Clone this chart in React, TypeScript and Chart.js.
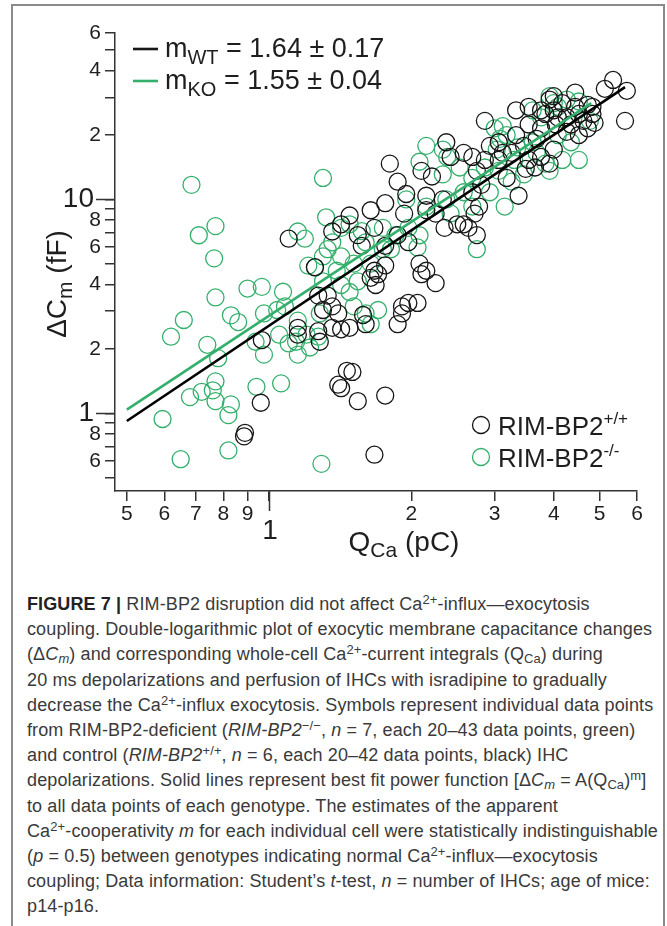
import React, { useEffect, useRef } from 'react';
import { Chart, registerables } from 'chart.js';

Chart.register(...registerables);

const FAMILY = '"Liberation Sans", Arial, Helvetica, sans-serif';
const AXIS_COLOR = '#333333';
const TEXT_COLOR = '#1e1e1e';
const WT_COLOR = '#161616';
const KO_COLOR = '#33b06c';

// RIM-BP2+/+ (WT, black): Q_Ca (pC) and ΔCm (fF)
const wtQ = [5.34, 5.13, 5.71, 5.66, 2.86, 2.37, 2.42, 2.58, 2.69, 2.86,
  2.10, 2.21, 1.80, 1.87, 1.95, 1.76, 1.64, 2.33, 2.35, 2.50,
  2.64, 2.75, 2.72, 2.78, 2.69, 2.81, 2.75, 3.06, 3.26, 3.33,
  3.37, 3.18, 3.54, 3.54, 3.76, 3.92, 4.00, 4.17, 4.44, 4.72,
  4.83, 4.62, 4.88, 4.52, 4.26, 4.04, 3.76, 3.68, 3.46, 3.54,
  3.76, 4.00, 3.92, 3.65, 4.26, 4.44, 4.83, 3.33, 3.06, 3.12,
  2.93, 1.10, 1.25, 1.27, 1.33, 1.30, 1.36, 1.40, 1.36, 1.42,
  1.48, 1.15, 1.15, 1.27, 1.28, 1.42, 1.48, 1.54, 1.57, 1.67,
  1.67, 1.64, 1.70, 1.68, 1.76, 1.58, 1.60, 1.87, 1.91, 1.97,
  2.06, 1.91, 2.08, 2.10, 2.15, 2.25, 2.15, 1.93, 1.97, 1.87,
  1.76, 0.965, 0.96, 0.889, 0.885, 1.46, 1.50, 1.40, 1.42, 1.54,
  1.76, 1.67, 4.00, 4.08, 4.52, 3.84, 4.35, 4.72, 3.49, 2.15,
  2.25, 2.58, 1.36];
const wtC = [36.2, 32.9, 32.2, 23.3, 23.3, 18.5, 15.8, 16.5, 15.8, 15.3,
  13.6, 12.8, 14.7, 12.1, 10.6, 9.6, 8.9, 10.0, 7.36, 7.65,
  7.36, 6.81, 8.58, 9.26, 10.8, 11.7, 13.6, 15.3, 16.5, 20.0,
  10.4, 12.6, 22.4, 27.1, 26.1, 29.3, 30.4, 28.2, 27.1, 27.7,
  25.1, 23.3, 22.8, 20.0, 20.7, 22.4, 21.5, 19.2, 17.8, 15.3,
  15.8, 17.1, 14.7, 14.1, 24.2, 31.6, 27.1, 26.1, 18.5, 16.5,
  17.8, 6.55, 4.82, 3.55, 3.55, 3.04, 3.16, 2.93, 2.51, 2.47,
  2.51, 2.51, 2.33, 2.42, 2.16, 7.65, 8.41, 6.81, 6.07, 7.36,
  4.64, 4.30, 4.47, 3.98, 4.91, 2.88, 2.61, 2.61, 3.16, 3.28,
  3.28, 2.93, 5.01, 4.47, 4.64, 4.06, 8.91, 8.58, 6.31, 6.81,
  6.07, 2.20, 1.12, 0.81, 0.78, 1.58, 1.56, 1.36, 1.31, 1.14,
  1.21, 0.64, 26.1, 24.2, 25.1, 25.1, 22.4, 21.5, 13.9, 10.4,
  8.58, 7.65, 7.08];

// RIM-BP2-/- (KO, green)
const koQ = [0.685, 0.71, 0.77, 0.765, 0.77, 0.66, 0.62, 0.83, 0.86, 0.74,
  0.78, 0.77, 0.76, 0.68, 0.72, 0.77, 0.83, 0.82, 0.595, 0.65,
  0.82, 1.29, 1.30, 0.90, 0.965, 1.07, 0.936, 0.975, 1.05, 1.14,
  1.15, 1.22, 0.94, 1.06, 1.08, 1.15, 1.19, 1.32, 1.25, 1.21,
  1.33, 1.36, 1.42, 1.48, 1.57, 1.60, 1.39, 1.30, 1.42, 1.48,
  1.54, 1.51, 1.60, 1.64, 1.15, 1.28, 1.20, 1.10, 1.27, 1.74,
  1.81, 1.85, 1.97, 2.08, 2.06, 1.95, 2.08, 2.33, 2.37, 2.42,
  2.15, 2.33, 2.38, 2.69, 2.75, 2.93, 3.06, 3.15, 3.26, 3.00,
  3.08, 3.03, 3.18, 3.46, 3.30, 3.68, 3.84, 3.92, 4.17, 4.52,
  4.35, 4.08, 3.76, 3.61, 4.00, 4.26, 4.52, 3.92, 4.08, 4.77,
  2.15, 2.53, 2.86, 3.35, 3.12, 3.61, 2.69, 2.58, 1.70, 0.975,
  1.04, 1.30, 1.64, 1.74, 1.42, 1.51];
const koC = [11.7, 6.8, 7.5, 5.3, 3.48, 2.73, 2.28, 2.87, 2.67, 2.09,
  1.81, 1.41, 1.28, 1.19, 1.26, 1.14, 1.10, 0.98, 0.94, 0.61,
  0.67, 0.58, 12.6, 3.83, 3.9, 3.7, 2.16, 1.88, 2.33, 2.16,
  1.88, 2.03, 1.33, 1.38, 3.16, 7.08, 6.55, 8.25, 4.8, 4.9,
  5.85, 6.3, 7.36, 7.65, 7.1, 6.3, 4.64, 4.14, 3.98, 3.69,
  4.14, 3.16, 2.93, 2.61, 2.71, 2.93, 2.33, 2.12, 2.28, 7.36,
  5.85, 6.8, 7.36, 6.8, 5.96, 10.0, 15.0, 13.1, 10.0, 8.6,
  9.26, 17.1, 15.8, 12.6, 5.85, 10.8, 13.6, 9.26, 12.1, 21.5,
  19.2, 17.1, 20.0, 13.1, 15.3, 16.5, 14.7, 13.6, 15.3, 15.3,
  18.5, 20.0, 24.2, 26.1, 28.2, 29.3, 28.7, 30.4, 27.1, 23.3,
  17.8, 14.1, 14.1, 17.5, 22.0, 18.5, 9.26, 10.8, 3.04, 2.93,
  3.04, 5.41, 5.01, 5.85, 5.41, 5.01];

// Best-fit power-function lines (end points)
const wtFitQ = [0.5, 5.66];
const wtFitC = [0.92, 33.5];
const koFitQ = [0.5, 4.8];
const koFitC = [1.04, 28.2];

// Axis ticks
const xMin = 0.472;
const xMax = 6;
const yMin = 0.433;
const yMax = 60;
const xTickValues = [0.5, 0.6, 0.7, 0.8, 0.9, 1, 2, 3, 4, 5, 6];
const xTickLabels = ['5', '6', '7', '8', '9', '', '2', '3', '4', '5', '6'];
const xMajorValues = [1];
const xMajorLabels = ['1'];
const yTickValues = [0.5, 0.6, 0.7, 0.8, 0.9, 1, 2, 3, 4, 5, 6, 7, 8, 9, 10, 20, 30, 40, 50, 60];
const yTickLabels = ['', '6', '', '8', '', '', '2', '', '4', '', '6', '', '8', '', '', '2', '', '4', '', '6'];
const yMajorValues = [1, 10];
const yMajorLabels = ['1', '10'];

const toPoints = (xs: number[], ys: number[]) => xs.map((x, i) => ({ x, y: ys[i] }));

type Part = { t: string; size: number; dy?: number };

function drawRich(ctx: CanvasRenderingContext2D, x: number, y: number, parts: Part[], align: 'left' | 'center') {
  const widths = parts.map((p) => {
    ctx.font = `${p.size}px ${FAMILY}`;
    return ctx.measureText(p.t).width;
  });
  const total = widths.reduce((a, b) => a + b, 0);
  let cx = align === 'center' ? x - total / 2 : x;
  ctx.textAlign = 'left';
  ctx.textBaseline = 'alphabetic';
  parts.forEach((p, i) => {
    ctx.font = `${p.size}px ${FAMILY}`;
    ctx.fillText(p.t, cx, y + (p.dy || 0));
    cx += widths[i];
  });
}

const decorPlugin = {
  id: 'decor',
  afterDraw(chart: any) {
    const { ctx, chartArea } = chart;
    const xs = chart.scales.x;
    const ys = chart.scales.y;
    ctx.save();
    ctx.strokeStyle = AXIS_COLOR;
    ctx.lineWidth = 1.5;
    // longer ticks at the decades
    xMajorValues.forEach((v) => {
      const px = Math.round(xs.getPixelForValue(v)) + 0.5;
      ctx.beginPath();
      ctx.moveTo(px, chartArea.bottom);
      ctx.lineTo(px, chartArea.bottom + 20);
      ctx.stroke();
    });
    yMajorValues.forEach((v) => {
      const py = Math.round(ys.getPixelForValue(v)) + 0.5;
      ctx.beginPath();
      ctx.moveTo(chartArea.left - 19, py);
      ctx.lineTo(chartArea.left, py);
      ctx.stroke();
    });
    // decade labels (larger)
    ctx.fillStyle = TEXT_COLOR;
    ctx.font = `28px ${FAMILY}`;
    ctx.textBaseline = 'middle';
    ctx.textAlign = 'center';
    xMajorValues.forEach((v, i) => {
      ctx.fillText(xMajorLabels[i], xs.getPixelForValue(v) + 1, chartArea.bottom + 40);
    });
    ctx.textAlign = 'right';
    yMajorValues.forEach((v, i) => {
      ctx.fillText(yMajorLabels[i], chartArea.left - 21, ys.getPixelForValue(v));
    });

    // axis titles
    ctx.fillStyle = TEXT_COLOR;
    drawRich(ctx, 404, 551, [
      { t: 'Q', size: 28 },
      { t: 'Ca', size: 21, dy: 6 },
      { t: ' (pC)', size: 28 },
    ], 'center');
    ctx.save();
    ctx.translate(66, 284);
    ctx.rotate(-Math.PI / 2);
    drawRich(ctx, 0, 0, [
      { t: '\u0394C', size: 28 },
      { t: 'm', size: 21, dy: 6 },
      { t: ' (fF)', size: 28 },
    ], 'center');
    ctx.restore();

    // top-left legend (fit slopes)
    const fitRows = [
      { color: WT_COLOR, sub: 'WT', val: ' = 1.64 \u00b1 0.17' },
      { color: KO_COLOR, sub: 'KO', val: ' = 1.55 \u00b1 0.04' },
    ];
    fitRows.forEach((r, i) => {
      const base = chartArea.top + 24 + i * 32;
      ctx.strokeStyle = r.color;
      ctx.lineWidth = 2.6;
      ctx.beginPath();
      ctx.moveTo(chartArea.left + 18, base - 8);
      ctx.lineTo(chartArea.left + 43, base - 8);
      ctx.stroke();
      ctx.fillStyle = TEXT_COLOR;
      drawRich(ctx, chartArea.left + 50, base, [
        { t: 'm', size: 27 },
        { t: r.sub, size: 20, dy: 7 },
        { t: r.val, size: 27 },
      ], 'left');
    });

    // bottom-right legend (genotypes)
    const genoRows = [
      { color: WT_COLOR, sup: '+/+' },
      { color: KO_COLOR, sup: '-/-' },
    ];
    genoRows.forEach((r, i) => {
      const cy = chartArea.bottom - 66 + i * 32;
      ctx.strokeStyle = r.color;
      ctx.lineWidth = 1.3;
      ctx.beginPath();
      ctx.arc(chartArea.left + 366, cy, 8.5, 0, Math.PI * 2);
      ctx.stroke();
      ctx.fillStyle = TEXT_COLOR;
      drawRich(ctx, chartArea.left + 383, cy + 10, [
        { t: 'RIM-BP2', size: 26 },
        { t: r.sup, size: 17, dy: -11 },
      ], 'left');
    });
    ctx.restore();
  },
};

function App() {
  const canvasRef = useRef<HTMLCanvasElement | null>(null);

  useEffect(() => {
    if (!canvasRef.current) return;
    const pointStyle = {
      pointStyle: 'circle' as const,
      pointRadius: 8.5,
      pointHoverRadius: 8.5,
      pointBorderWidth: 1.3,
      backgroundColor: 'rgba(0,0,0,0)',
      showLine: false,
    };
    const chart = new Chart(canvasRef.current, {
      type: 'scatter',
      data: {
        datasets: [
          {
            label: 'KO fit',
            data: toPoints(koFitQ, koFitC),
            showLine: true,
            borderColor: KO_COLOR,
            borderWidth: 2.6,
            pointRadius: 0,
          },
          {
            label: 'WT fit',
            data: toPoints(wtFitQ, wtFitC),
            showLine: true,
            borderColor: '#000000',
            borderWidth: 2.6,
            pointRadius: 0,
          },
          {
            label: 'RIM-BP2+/+',
            data: toPoints(wtQ, wtC),
            borderColor: WT_COLOR,
            ...pointStyle,
          },
          {
            label: 'RIM-BP2-/-',
            data: toPoints(koQ, koC),
            borderColor: KO_COLOR,
            ...pointStyle,
          },
        ],
      },
      options: {
        responsive: false,
        animation: false,
        events: [],
        layout: { padding: { left: 0, right: 30, top: 33, bottom: 0 } },
        plugins: { legend: { display: false }, tooltip: { enabled: false }, title: { display: false } },
        scales: {
          x: {
            type: 'logarithmic',
            min: xMin,
            max: xMax,
            bounds: 'data',
            afterFit: (s: any) => { s.height = 69; },
            afterBuildTicks: (s: any) => { s.ticks = xTickValues.map((v) => ({ value: v })); },
            border: { display: true, color: AXIS_COLOR, width: 1.5 },
            grid: { display: true, drawOnChartArea: false, drawTicks: true, tickLength: 10, color: AXIS_COLOR, lineWidth: 1.5 },
            ticks: {
              autoSkip: false,
              maxRotation: 0,
              minRotation: 0,
              padding: 3,
              color: TEXT_COLOR,
              font: { family: FAMILY, size: 21, lineHeight: 1 },
              callback: (value: any) => {
                const i = xTickValues.indexOf(Number(value));
                return i >= 0 ? xTickLabels[i] : '';
              },
            },
          },
          y: {
            type: 'logarithmic',
            min: yMin,
            max: yMax,
            bounds: 'data',
            afterFit: (s: any) => { s.width = 115; },
            afterBuildTicks: (s: any) => { s.ticks = yTickValues.map((v) => ({ value: v })); },
            border: { display: true, color: AXIS_COLOR, width: 1.5 },
            grid: { display: true, drawOnChartArea: false, drawTicks: true, tickLength: 10, color: AXIS_COLOR, lineWidth: 1.5 },
            ticks: {
              autoSkip: false,
              padding: 4,
              color: TEXT_COLOR,
              font: { family: FAMILY, size: 21, lineHeight: 1 },
              callback: (value: any) => {
                const i = yTickValues.indexOf(Number(value));
                return i >= 0 ? yTickLabels[i] : '';
              },
            },
          },
        },
      },
      plugins: [decorPlugin],
    } as any);
    return () => chart.destroy();
  }, []);

  const sup: React.CSSProperties = { fontSize: '0.72em', verticalAlign: '0.5em', lineHeight: 0 };
  const sub: React.CSSProperties = { fontSize: '0.72em', verticalAlign: '-0.25em', lineHeight: 0 };
  const line: React.CSSProperties = { whiteSpace: 'nowrap', height: 25.2 };

  return (
    <div style={{ position: 'absolute', left: 0, top: 0, width: 667, height: 926, overflow: 'hidden', background: '#ffffff' }}>
      <div style={{ position: 'absolute', left: 11, top: 4, width: 650, height: 1000, border: '2px solid #8a8a8a' }} />
      <canvas ref={canvasRef} width={667} height={560} style={{ position: 'absolute', left: 0, top: 0, display: 'block' }} />
      <div style={{ position: 'absolute', left: 27, top: 592, fontFamily: FAMILY, fontSize: 18, letterSpacing: '0.12px', color: '#3a3a3a', lineHeight: '25.2px' }}>
        <div style={line}><b style={{ color: '#222' }}>FIGURE 7 |</b> RIM-BP2 disruption did not affect Ca<span style={sup}>2+</span>-influx—exocytosis</div>
        <div style={line}>coupling. Double-logarithmic plot of exocytic membrane capacitance changes</div>
        <div style={line}>(Δ<i>C<span style={sub}>m</span></i>) and corresponding whole-cell Ca<span style={sup}>2+</span>-current integrals (Q<span style={sub}>Ca</span>) during</div>
        <div style={line}>20 ms depolarizations and perfusion of IHCs with isradipine to gradually</div>
        <div style={line}>decrease the Ca<span style={sup}>2+</span>-influx exocytosis. Symbols represent individual data points</div>
        <div style={line}>from RIM-BP2-deficient (<i>RIM-BP2</i><span style={sup}>−/−</span>, <i>n</i> = 7, each 20–43 data points, green)</div>
        <div style={line}>and control (<i>RIM-BP2</i><span style={sup}>+/+</span>, <i>n</i> = 6, each 20–42 data points, black) IHC</div>
        <div style={line}>depolarizations. Solid lines represent best fit power function [Δ<i>C<span style={sub}>m</span></i> = A(Q<span style={sub}>Ca</span>)<span style={sup}>m</span>]</div>
        <div style={line}>to all data points of each genotype. The estimates of the apparent</div>
        <div style={line}>Ca<span style={sup}>2+</span>-cooperativity <i>m</i> for each individual cell were statistically indistinguishable</div>
        <div style={line}>(<i>p</i> = 0.5) between genotypes indicating normal Ca<span style={sup}>2+</span>-influx—exocytosis</div>
        <div style={line}>coupling; Data information: Student’s <i>t</i>-test, <i>n</i> = number of IHCs; age of mice:</div>
        <div style={line}>p14-p16.</div>
      </div>
    </div>
  );
}

export default App;
